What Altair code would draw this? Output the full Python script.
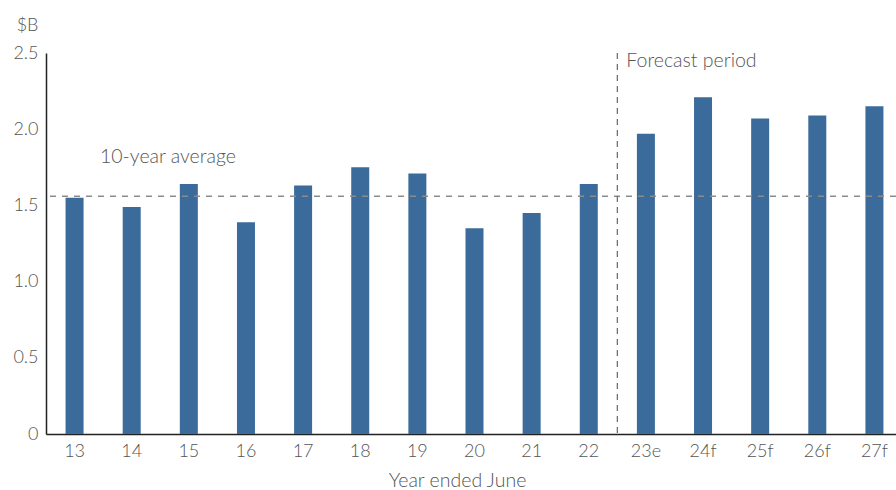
import altair as alt
import pandas as pd

# Annual values, $ billions (e = estimate, f = forecast)
years = ["13", "14", "15", "16", "17", "18", "19", "20", "21", "22",
         "23e", "24f", "25f", "26f", "27f"]
values = [1.55, 1.49, 1.64, 1.39, 1.63, 1.75, 1.71, 1.35, 1.45, 1.64,
          1.97, 2.21, 2.07, 2.09, 2.15]
ten_year_average = 1.56
last_actual_year = "22"

df = pd.DataFrame({"year": years, "value": values})
one = pd.DataFrame({"k": [0]})  # single row for annotations

FONT = "Lato"
WEIGHT = 300
TEXT = "#555555"
BAR = "#3a6b9a"
NOTE_SIZE = 19.5

x_scale = alt.Scale(domain=years, range=[0, 857], paddingInner=0, paddingOuter=0)
y_scale = alt.Scale(domain=[0, 2.5], nice=False)

bars = alt.Chart(df).mark_bar(size=18, color=BAR).encode(
    x=alt.X("year:N", sort=years, scale=x_scale,
            axis=alt.Axis(title="Year ended June", labelAngle=0, ticks=False,
                          labelPadding=8, labelFontSize=18, labelColor=TEXT,
                          labelFont=FONT, labelFontWeight=WEIGHT,
                          titleFont=FONT, titleFontSize=NOTE_SIZE,
                          titleFontWeight=WEIGHT, titleColor=TEXT,
                          titlePadding=11, domainColor="#222", domainWidth=1.5,
                          titleX=411)),
    y=alt.Y("value:Q", scale=y_scale,
            axis=alt.Axis(title="$B", values=[0, 0.5, 1, 1.5, 2, 2.5],
                          labelExpr="datum.value == 0 ? '0' : format(datum.value, '.1f')",
                          grid=False, ticks=False, labelPadding=8,
                          labelFontSize=18, labelColor=TEXT, labelFont=FONT,
                          labelFontWeight=WEIGHT,
                          titleFont=FONT, titleFontSize=18, titleFontWeight=WEIGHT,
                          titleColor=TEXT, titleAngle=0, titleAlign="right",
                          titleBaseline="alphabetic", titleX=-8, titleY=-23,
                          domainColor="#222", domainWidth=1.5)),
)

avg_line = alt.Chart(one).mark_rule(color="#8c8c8c", strokeDash=[6, 6], strokeWidth=1.5).encode(
    y=alt.datum(ten_year_average, scale=y_scale)
)

avg_label = alt.Chart(one).mark_text(
    text="10-year average", align="left", baseline="middle", dy=-39,
    font=FONT, fontSize=NOTE_SIZE, fontWeight=WEIGHT, color=TEXT
).encode(x=alt.value(54), y=alt.datum(ten_year_average))

forecast_line = alt.Chart(one).mark_rule(color="#666666", strokeDash=[6, 5], strokeWidth=1.2).encode(
    x=alt.XDatum(last_actual_year, bandPosition=1)
)

forecast_label = alt.Chart(one).mark_text(
    text="Forecast period", align="left", baseline="middle", dx=9,
    font=FONT, fontSize=NOTE_SIZE, fontWeight=WEIGHT, color=TEXT
).encode(x=alt.XDatum(last_actual_year, bandPosition=1), y=alt.datum(2.45))

chart = alt.layer(bars, avg_line, forecast_line, avg_label, forecast_label).properties(
    width=850, height=381,
    background="white",
    autosize=alt.AutoSizeParams(type="none"),
    padding={"left": 46, "top": 53, "right": 0, "bottom": 56},
).configure_view(stroke=None)

chart.save("out.html", embed_options={"renderer": "svg", "actions": False})
